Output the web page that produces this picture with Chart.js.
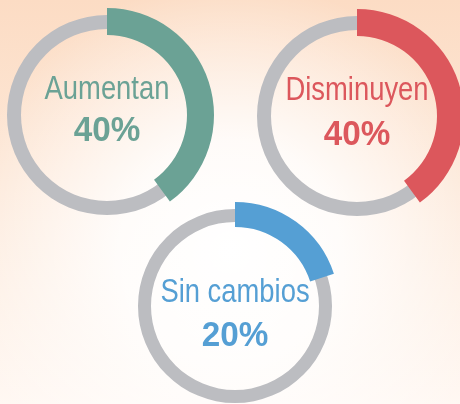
<!DOCTYPE html>
<html>
<head>
<meta charset="utf-8">
<script src="https://cdn.jsdelivr.net/npm/chart.js@4/dist/chart.umd.min.js"></script>
<style>
    html, body {
        margin: 0;
        padding: 0;
    }
    body {
        width: 460px;
        height: 404px;
        overflow: hidden;
        position: relative;
        background:
            radial-gradient(circle at 50% 62%, rgba(255,255,255,1) 0px, rgba(255,255,255,0.85) 110px, rgba(255,255,255,0) 270px),
            linear-gradient(180deg, #fcdcc4 0%, #fde8d8 45%, #fff8f3 100%);
    }
    .ring {
        position: absolute;
        width: 220px;
        height: 220px;
    }
    .ring canvas {
        position: absolute;
        left: 0;
        top: 0;
    }
    .label, .value {
        position: absolute;
        left: 0;
        width: 220px;
        text-align: center;
        line-height: 1;
        white-space: nowrap;
        transform-origin: 50% 50%;
    }
    .label {
        font-family: "Liberation Sans", "Arimo", sans-serif;
        font-size: 33px;
        transform: scaleX(0.83);
    }
    .value {
        font-family: "Liberation Sans", "Arimo", sans-serif;
        font-weight: bold;
        font-size: 35px;
        transform: scaleX(0.95);
    }
</style>
</head>
<body>
<script>
const categories = ["Aumentan", "Disminuyen", "Sin cambios"];
const percents = [40, 40, 20];
const valueLabels = ["40%", "40%", "20%"];

// styles
const colors = ["#6ba295", "#dc575c", "#559fd4"];
const trackColor = "#bcbdc1";
const centers = [[107, 115], [357, 116], [235, 306]];
const labelTops = [71, 72, 274];
const valueTops = [111, 115, 316];

const size = 220;

function makeCanvas(parent) {
    const canvas = document.createElement("canvas");
    canvas.width = size;
    canvas.height = size;
    canvas.style.width = size + "px";
    canvas.style.height = size + "px";
    parent.appendChild(canvas);
    return canvas;
}

// cutout is given as inner/outer ratio so the ring edges land on exact pixels
function baseOptions(outer, inner) {
    return {
        responsive: false,
        animation: false,
        radius: outer,
        cutout: (inner / outer) * 100 + "%",
        layout: { padding: 0 },
        plugins: {
            legend: { display: false },
            tooltip: { enabled: false },
        },
    };
}

categories.forEach((name, i) => {
    const ring = document.createElement("div");
    ring.className = "ring";
    ring.style.left = centers[i][0] - size / 2 + "px";
    ring.style.top = centers[i][1] - size / 2 + "px";
    document.body.appendChild(ring);

    const small = i === 2;

    // grey track
    new Chart(makeCanvas(ring), {
        type: "doughnut",
        data: {
            labels: ["total"],
            datasets: [
                {
                    data: [100],
                    backgroundColor: [trackColor],
                    borderWidth: 0,
                },
            ],
        },
        options: small ? baseOptions(97, 84) : baseOptions(100, 86),
    });

    // coloured share
    new Chart(makeCanvas(ring), {
        type: "doughnut",
        data: {
            labels: [name, "resto"],
            datasets: [
                {
                    data: [percents[i], 100 - percents[i]],
                    backgroundColor: [colors[i], "rgba(0,0,0,0)"],
                    borderWidth: 0,
                },
            ],
        },
        options: small ? baseOptions(104, 79) : baseOptions(107, 80),
    });

    const label = document.createElement("div");
    label.className = "label";
    label.textContent = name;
    label.style.color = colors[i];
    label.style.top = labelTops[i] - (centers[i][1] - size / 2) + "px";
    ring.appendChild(label);

    const value = document.createElement("div");
    value.className = "value";
    value.textContent = valueLabels[i];
    value.style.color = colors[i];
    value.style.top = valueTops[i] - (centers[i][1] - size / 2) + "px";
    ring.appendChild(value);
});
</script>
</body>
</html>
